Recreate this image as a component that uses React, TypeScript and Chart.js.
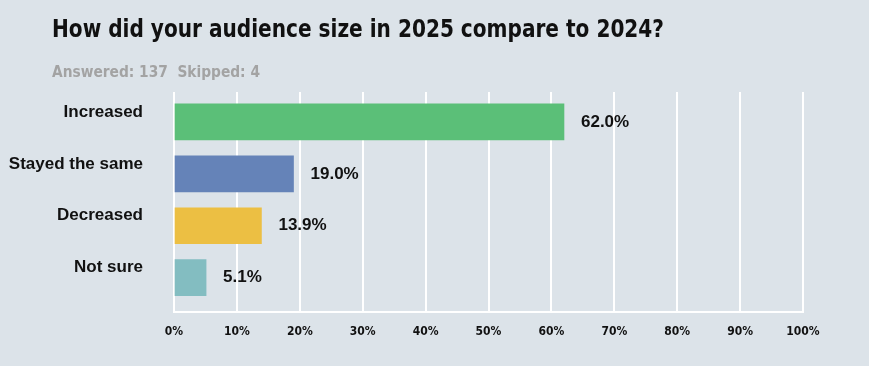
import React, { useEffect, useRef } from "react";
import { Chart, registerables } from "chart.js";

Chart.register(...registerables);

const categories = ["Increased", "Stayed the same", "Decreased", "Not sure"];
const values = [62.0, 19.0, 13.9, 5.1];
const barColors = ["#5bbf78", "#6583b8", "#ecbf43", "#83bdc1"];
const xTicks = [0, 10, 20, 30, 40, 50, 60, 70, 80, 90, 100];
const titleText = "How did your audience size in 2025 compare to 2024?";
const subtitleText = "Answered: 137  Skipped: 4";

const BG = "#dce3e9";
const NARROW = "'DejaVu Sans Condensed', 'Liberation Sans Narrow', sans-serif";
const SANS = "'Liberation Sans', Arial, sans-serif";

const bgPlugin = {
  id: "bgFill",
  beforeDraw(chart: any) {
    const { ctx, width, height } = chart;
    ctx.save();
    ctx.fillStyle = BG;
    ctx.fillRect(0, 0, width, height);
    ctx.restore();
  },
};

function drawCondensed(ctx: any, text: string, x: number, y: number, font: string, color: string, targetW: number) {
  ctx.save();
  ctx.font = font;
  ctx.fillStyle = color;
  ctx.textAlign = "left";
  ctx.textBaseline = "alphabetic";
  const w = ctx.measureText(text).width;
  const sx = Math.min(1, targetW / w);
  ctx.translate(x, y);
  ctx.scale(sx, 1);
  ctx.fillText(text, 0, 0);
  ctx.restore();
}

const headerPlugin = {
  id: "header",
  afterDraw(chart: any) {
    const { ctx } = chart;
    drawCondensed(ctx, titleText, 52, 37, `bold 24px ${NARROW}`, "#111111", 612);
    drawCondensed(ctx, subtitleText, 52, 77, `bold 16px ${NARROW}`, "#a3a3a3", 208);
  },
};

const valueLabelPlugin = {
  id: "valueLabels",
  afterDatasetsDraw(chart: any) {
    const { ctx } = chart;
    const meta = chart.getDatasetMeta(0);
    ctx.save();
    ctx.font = `bold 17px ${SANS}`;
    ctx.fillStyle = "#111111";
    ctx.textAlign = "left";
    ctx.textBaseline = "middle";
    meta.data.forEach((el: any, i: number) => {
      ctx.fillText(values[i].toFixed(1) + "%", el.x + 17, el.y);
    });
    ctx.restore();
  },
};

export default function App() {
  const ref = useRef<HTMLCanvasElement | null>(null);

  useEffect(() => {
    document.body.style.margin = "0";
    document.body.style.background = BG;
    const canvas = ref.current;
    if (!canvas) return;
    const chart = new Chart(canvas, {
      type: "bar",
      data: {
        datasets: [
          {
            data: values.map((v, i) => ({ x: v, y: i })),
            backgroundColor: barColors,
            borderWidth: 0,
            barThickness: 36,
          },
        ],
      },
      options: {
        indexAxis: "y",
        animation: false,
        responsive: false,
        maintainAspectRatio: false,
        layout: { padding: { left: 4, right: 66, top: 92, bottom: 14 } },
        plugins: {
          legend: { display: false },
          tooltip: { enabled: false },
          title: { display: false },
        },
        scales: {
          x: {
            type: "linear",
            position: "bottom",
            min: 0,
            max: 100,
            afterBuildTicks: (s: any) => {
              s.ticks = xTicks.map((v) => ({ value: v }));
            },
            afterFit: (s: any) => {
              s.paddingLeft = 0;
              s.paddingRight = 0;
            },
            grid: { color: "#ffffff", lineWidth: 2, drawTicks: false },
            border: { display: true, color: "#ffffff", width: 2 },
            ticks: {
              padding: 13,
              color: "#111111",
              font: { family: NARROW, size: 12, weight: "bold" },
              callback: (v: any) => v + "%",
              maxRotation: 0,
            },
          },
          y: {
            type: "linear",
            reverse: true,
            offset: false,
            min: -0.577,
            max: 3.654,
            afterBuildTicks: (s: any) => {
              s.ticks = categories.map((_, i) => ({ value: i }));
            },
            afterFit: (s: any) => {
              s.width = 170;
              s.paddingTop = 0;
              s.paddingBottom = 0;
            },
            grid: { display: false, drawTicks: false, offset: false },
            border: { display: false },
            ticks: {
              padding: 31,
              labelOffset: -10,
              color: "#111111",
              font: { family: SANS, size: 17, weight: "bold" },
              callback: (v: any) => categories[v] ?? "",
            },
          },
        },
      },
      plugins: [bgPlugin, valueLabelPlugin, headerPlugin],
    });
    return () => chart.destroy();
  }, []);

  return (
    <div style={{ width: 869, height: 366, background: BG }}>
      <canvas ref={ref} width={869} height={366} style={{ display: "block" }} />
    </div>
  );
}
